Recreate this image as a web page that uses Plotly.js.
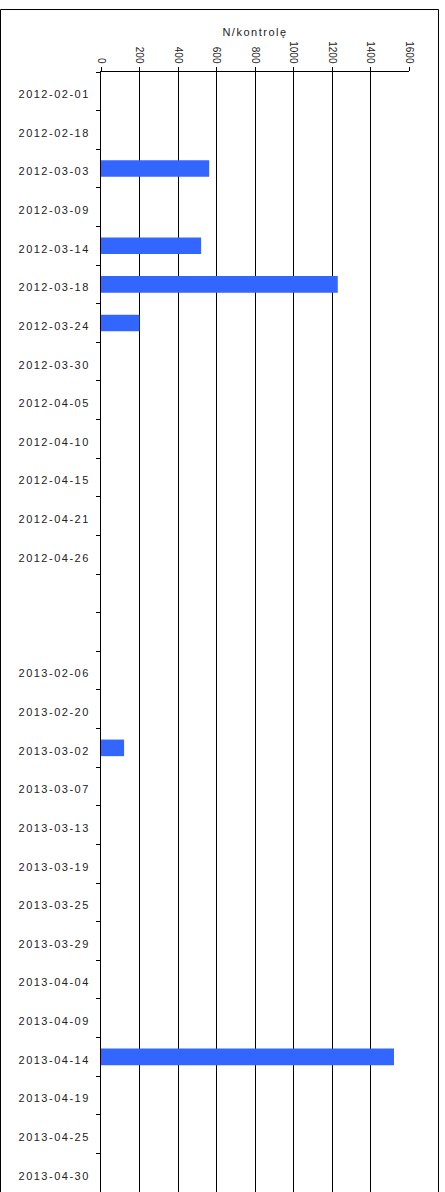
<!DOCTYPE html>
<html>
<head>
<meta charset="utf-8">
<script src="https://cdn.plot.ly/plotly-3.0.1.min.js"></script>
<style>
  html, body { margin: 0; padding: 0; background: #fff; }
  #chart { width: 445px; height: 1192px; }
  #chart .ytick text { letter-spacing: 1.5px; }
  #chart .gtitle { letter-spacing: 1.5px; }
</style>
</head>
<body>
<div id="chart"></div>
<script>
// Categories (top to bottom); two unlabeled gap rows between the seasons
const categories = [
  "2012-02-01", "2012-02-18", "2012-03-03", "2012-03-09", "2012-03-14",
  "2012-03-18", "2012-03-24", "2012-03-30", "2012-04-05", "2012-04-10",
  "2012-04-15", "2012-04-21", "2012-04-26", " ", "  ",
  "2013-02-06", "2013-02-20", "2013-03-02", "2013-03-07", "2013-03-13",
  "2013-03-19", "2013-03-25", "2013-03-29", "2013-04-04", "2013-04-09",
  "2013-04-14", "2013-04-19", "2013-04-25", "2013-04-30"
];
const values = [
  0, 0, 562, 0, 520,
  1230, 200, 0, 0, 0,
  0, 0, 0, null, null,
  0, 0, 120, 0, 0,
  0, 0, 0, 0, 0,
  1522, 0, 0, 0
];
const xTickVals = [0, 200, 400, 600, 800, 1000, 1200, 1400, 1600];
const titleText = "N/kontrolę";

const W = 445, H = 1192;
const mL = 101, mR = 36, mT = 72, mB = 0;
const plotW = W - mL - mR, plotH = H - mT - mB;
const px2paperX = px => (px - mL) / plotW;
const px2paperY = py => 1 - (py - mT) / plotH;

const trace = {
  type: "bar",
  orientation: "h",
  y: categories,
  x: values,
  width: 0.43,
  marker: { color: "#3366ff", line: { width: 0 } },
  hoverinfo: "x+y"
};

const layout = {
  width: W,
  height: H,
  margin: { l: mL, r: mR, t: mT, b: mB, pad: 0 },
  paper_bgcolor: "#ffffff",
  plot_bgcolor: "#ffffff",
  showlegend: false,
  font: { family: "Liberation Sans, Arial, sans-serif", color: "#222" },
  title: {
    text: titleText,
    font: { size: 11, color: "#222", family: "Liberation Sans, Arial, sans-serif" },
    xref: "paper", x: 0.5, xanchor: "center",
    yref: "container", y: 1 - 32 / H, yanchor: "middle"
  },
  xaxis: {
    side: "top",
    range: [0, 1600],
    tickvals: xTickVals,
    ticktext: xTickVals.map(String),
    tickangle: 90,
    ticks: "outside",
    ticklen: 4,
    tickwidth: 1,
    tickcolor: "#000",
    tickfont: { size: 10, color: "#222", family: "Liberation Sans, Arial, sans-serif" },
    ticklabelstandoff: 0,
    showline: true,
    linecolor: "#000",
    linewidth: 1,
    showgrid: true,
    gridcolor: "#000",
    gridwidth: 1,
    zeroline: false,
    fixedrange: true
  },
  yaxis: {
    type: "category",
    categoryorder: "array",
    categoryarray: categories,
    range: [categories.length - 0.5, -0.5],
    ticks: "outside",
    tickson: "boundaries",
    ticklen: 4,
    tickwidth: 1,
    tickcolor: "#000",
    tickfont: { size: 11, color: "#222", family: "Liberation Sans, Arial, sans-serif" },
    ticklabelstandoff: 8,
    ticklabelshift: -3,
    showline: true,
    linecolor: "#000",
    linewidth: 1,
    showgrid: false,
    zeroline: false,
    fixedrange: true
  },
  shapes: [
    {
      type: "rect",
      xref: "paper", yref: "paper",
      x0: px2paperX(0.5), x1: px2paperX(438.5),
      y0: px2paperY(H + 20), y1: px2paperY(9.5),
      line: { color: "#000", width: 1 },
      fillcolor: "rgba(0,0,0,0)",
      layer: "above"
    }
  ]
};

Plotly.newPlot("chart", [trace], layout, { displayModeBar: false, staticPlot: true });
</script>
</body>
</html>
